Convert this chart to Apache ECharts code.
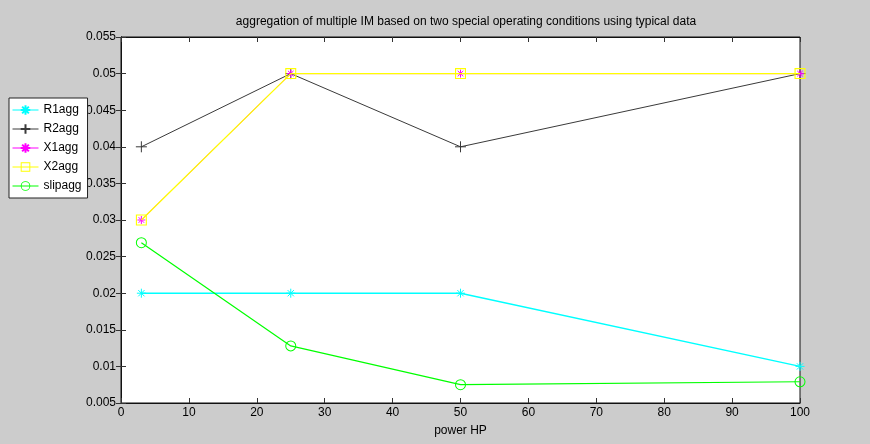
<!DOCTYPE html>
<html>
<head>
<meta charset="utf-8">
<script src="https://cdn.jsdelivr.net/npm/echarts@6/dist/echarts.min.js"></script>
<style>
html,body{margin:0;padding:0;background:#cccccc;}
#c{width:870px;height:444px;}
</style>
</head>
<body>
<div id="c"></div>
<script>
const titleText = 'aggregation of multiple IM based on two special operating conditions using typical data';
const xLabel = 'power HP';
const powerHP = [3, 25, 50, 100];
const R1agg = [0.02, 0.02, 0.02, 0.01];
const R2agg = [0.04, 0.05, 0.04, 0.05];
const X1agg = [0.03, 0.05, 0.05, 0.05];
const X2agg = [0.03, 0.05, 0.05, 0.05];
const slipagg = [0.0269, 0.0128, 0.0075, 0.0079];
const seriesNames = ['R1agg', 'R2agg', 'X1agg', 'X2agg', 'slipagg'];

const PLUS = 'path://M0,-1L0,1M-1,0L1,0';
const STAR = 'path://M0,-1L0,1M-1,0L1,0M-0.7,-0.7L0.7,0.7M-0.7,0.7L0.7,-0.7';
const SQUARE = 'path://M-1,-1L1,-1L1,1L-1,1Z M-0.8,-0.8L-0.8,0.8L0.8,0.8L0.8,-0.8Z';
const CIRCLE = 'path://M1,0A1,1 0 1,1 -1,0A1,1 0 1,1 1,0Z M0.82,0A0.82,0.82 0 1,0 -0.82,0A0.82,0.82 0 1,0 0.82,0Z';

function pairs(ys){ return powerHP.map((x,i)=>[x, ys[i]]); }

const defs = [
  {name: seriesNames[0], data: R1agg, color: '#00ffff', symbol: STAR, size: 9, stroke: true, lw: 1.4},
  {name: seriesNames[1], data: R2agg, color: '#3a3a3a', symbol: PLUS, size: 11, stroke: true, lw: 1},
  {name: seriesNames[2], data: X1agg, color: '#ff00ff', symbol: STAR, size: 8, stroke: true, lw: 1},
  {name: seriesNames[3], data: X2agg, color: '#ffff00', symbol: SQUARE, size: 11, stroke: false, lw: 1.3},
  {name: seriesNames[4], data: slipagg, color: '#00ff00', symbol: CIRCLE, size: 11, stroke: false, lw: 1.2}
];

const series = defs.map((d, i) => ({
  name: d.name,
  type: 'line',
  data: pairs(d.data),
  symbol: d.symbol,
  symbolSize: d.size,
  showAllSymbol: true,
  animation: false,
  z: 2 + i,
  lineStyle: {color: d.color, width: d.lw},
  itemStyle: d.stroke ? {color: d.color, borderColor: d.color, borderWidth: 1} : {color: d.color, borderWidth: 0}
}));

const fmt = v => String(parseFloat(v.toFixed(3)));
const font = 'Liberation Sans, Arial, sans-serif';

const chart = echarts.init(document.getElementById('c'), null, {renderer: 'canvas'});
chart.setOption({
  backgroundColor: '#cccccc',
  animation: false,
  textStyle: {fontFamily: font},
  title: {
    text: titleText, left: 461, top: 11, textAlign: 'center',
    textStyle: {fontSize: 12, fontWeight: 'normal', color: '#000', fontFamily: font}
  },
  legend: {
    orient: 'vertical', left: 9, top: 98,
    backgroundColor: '#ffffff', borderColor: '#222', borderWidth: 1,
    padding: [5, 6, 5, 3], itemGap: 5, itemWidth: 26, itemHeight: 12,
    lineStyle: {width: 1},
    textStyle: {fontSize: 12, color: '#000', fontFamily: font, lineHeight: 14},
    data: seriesNames
  },
  grid: {
    left: 121, right: 70, top: 37, bottom: 41,
    show: true, backgroundColor: '#ffffff', borderColor: '#111', borderWidth: 1
  },
  xAxis: [{
    type: 'value', min: 0, max: 100, interval: 10, position: 'bottom',
    name: xLabel, nameLocation: 'middle', nameGap: 22,
    nameTextStyle: {fontSize: 12, color: '#000', fontFamily: font},
    axisLine: {show: true, lineStyle: {color: '#111'}},
    axisTick: {inside: true, length: 5, lineStyle: {color: '#333'}},
    axisLabel: {fontSize: 12, color: '#000', margin: 4, fontFamily: font},
    splitLine: {show: false}
  }, {
    type: 'value', min: 0, max: 100, interval: 10, position: 'top',
    axisLine: {show: true, lineStyle: {color: '#111'}},
    axisTick: {inside: true, length: 5, lineStyle: {color: '#333'}},
    axisLabel: {show: false}, splitLine: {show: false}
  }],
  yAxis: [{
    type: 'value', min: 0.005, max: 0.055, interval: 0.005, position: 'left',
    axisLine: {show: true, lineStyle: {color: '#111'}},
    axisTick: {inside: true, length: 5, lineStyle: {color: '#333'}},
    axisLabel: {fontSize: 12, color: '#000', margin: 5, formatter: fmt, fontFamily: font},
    splitLine: {show: false}
  }, {
    type: 'value', min: 0.005, max: 0.055, interval: 0.005, position: 'right',
    axisLine: {show: true, lineStyle: {color: '#111'}},
    axisTick: {inside: true, length: 5, lineStyle: {color: '#333'}},
    axisLabel: {show: false}, splitLine: {show: false}
  }],
  series: series
});
</script>
</body>
</html>
